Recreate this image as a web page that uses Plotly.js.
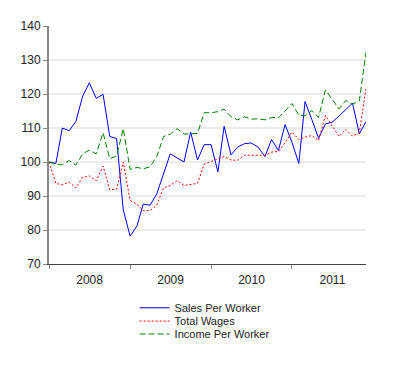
<!DOCTYPE html>
<html>
<head>
<meta charset="utf-8">
<script src="https://cdn.plot.ly/plotly-3.0.1.min.js"></script>
<style>html,body{margin:0;padding:0;background:#fff;}#chart{width:400px;height:365px;}</style>
</head>
<body>
<div id="chart"></div>
<script>
const months = [
  "2008-01-01","2008-02-01","2008-03-01","2008-04-01","2008-05-01","2008-06-01","2008-07-01","2008-08-01","2008-09-01","2008-10-01","2008-11-01","2008-12-01",
  "2009-01-01","2009-02-01","2009-03-01","2009-04-01","2009-05-01","2009-06-01","2009-07-01","2009-08-01","2009-09-01","2009-10-01","2009-11-01","2009-12-01",
  "2010-01-01","2010-02-01","2010-03-01","2010-04-01","2010-05-01","2010-06-01","2010-07-01","2010-08-01","2010-09-01","2010-10-01","2010-11-01","2010-12-01",
  "2011-01-01","2011-02-01","2011-03-01","2011-04-01","2011-05-01","2011-06-01","2011-07-01","2011-08-01","2011-09-01","2011-10-01","2011-11-01","2011-12-01"
];

const salesPerWorker = [
  100, 99.6, 110, 109.2, 111.9, 119.4, 123.3, 118.7, 119.9, 107.5, 106.9, 85.9,
  78.2, 81.2, 87.6, 87.3, 90.6, 96.5, 102.4, 101.2, 100, 108.8, 100.6, 105.1,
  105.1, 97.1, 110.5, 102.1, 104.4, 105.4, 105.6, 104.4, 101.6, 106.6, 103.4, 111,
  105.8, 99.6, 117.8, 112.4, 107, 111.2, 111.7, 113.5, 115.4, 117.3, 108.3, 111.9
];

const totalWages = [
  100, 93.7, 93.3, 94.1, 92.4, 95.5, 95.9, 94.5, 98.8, 91.8, 92, 100,
  88.7, 87.6, 85.7, 85.7, 87.3, 92.4, 93.1, 94.5, 93.1, 93.5, 93.7, 99.4,
  100.2, 100.9, 101.6, 100.6, 100.5, 102, 102, 102.2, 102, 102.9, 103.1, 105.7,
  108.8, 106.6, 107.3, 107.8, 106.3, 113.7, 110.8, 107.5, 109.6, 107.6, 108.7, 121.7
];

const incomePerWorker = [
  100, 99.3, 99.2, 100.4, 99.1, 102.4, 103.5, 102.4, 108.6, 101, 101.8, 109.8,
  97.8, 98.4, 98, 98.6, 101.6, 107.5, 108.2, 109.8, 108.2, 108.4, 108.4, 114.5,
  114.5, 114.8, 115.6, 113.3, 112.4, 113.3, 112.6, 112.7, 112.4, 113.1, 113, 115,
  117.2, 113.8, 113.6, 115.1, 113.1, 121.2, 118.4, 115.6, 118.1, 117, 118, 132.3
];

const seriesNames = ["Sales Per Worker", "Total Wages", "Income Per Worker"];
const yTicks = [70, 80, 90, 100, 110, 120, 130, 140];

const traces = [
  {x: months, y: salesPerWorker, name: seriesNames[0], type: "scatter", mode: "lines",
   legend: "legend", line: {color: "#0000ff", width: 1}},
  {x: months, y: totalWages, name: seriesNames[1], type: "scatter", mode: "lines",
   legend: "legend2", line: {color: "#ff0000", width: 1, dash: "2px,2px"}},
  {x: months, y: incomePerWorker, name: seriesNames[2], type: "scatter", mode: "lines",
   legend: "legend3", line: {color: "#008000", width: 1, dash: "6px,3px"}}
];

function legendAt(y) {
  return {
    orientation: "v", x: 0.27, xanchor: "left", y: y, yanchor: "middle",
    font: {size: 11, color: "#222"}, itemwidth: 30,
    bgcolor: "rgba(0,0,0,0)", borderwidth: 0
  };
}

const layout = {
  width: 400, height: 365,
  margin: {l: 49, r: 34, t: 26, b: 101, pad: 0, autoexpand: false},
  paper_bgcolor: "#ffffff", plot_bgcolor: "#ffffff",
  font: {family: "Liberation Sans, Arial, sans-serif", size: 12, color: "#222"},
  showlegend: true,
  legend: legendAt(-0.184),
  legend2: legendAt(-0.24),
  legend3: legendAt(-0.294),
  xaxis: {
    type: "date",
    range: ["2008-01-01", "2011-12-01"],
    tick0: "2008-01-01", dtick: "M12", tickformat: "%Y", ticklabelmode: "period",
    showgrid: false, zeroline: false, automargin: false,
    showline: true, linecolor: "#444", linewidth: 1,
    ticks: "outside", ticklen: 4, tickcolor: "#888", tickwidth: 1,
    ticklabelstandoff: 1,
    tickfont: {size: 12, color: "#222"}
  },
  yaxis: {
    range: [70, 140], tickvals: yTicks, automargin: false,
    showgrid: true, gridcolor: "#ececec", gridwidth: 2, zeroline: false,
    showline: true, linecolor: "#888", linewidth: 2,
    ticks: "outside", ticklen: 4, tickcolor: "#888", tickwidth: 1,
    tickfont: {size: 12, color: "#222"}
  }
};

Plotly.newPlot("chart", traces, layout, {displayModeBar: false, staticPlot: true});
</script>
</body>
</html>
